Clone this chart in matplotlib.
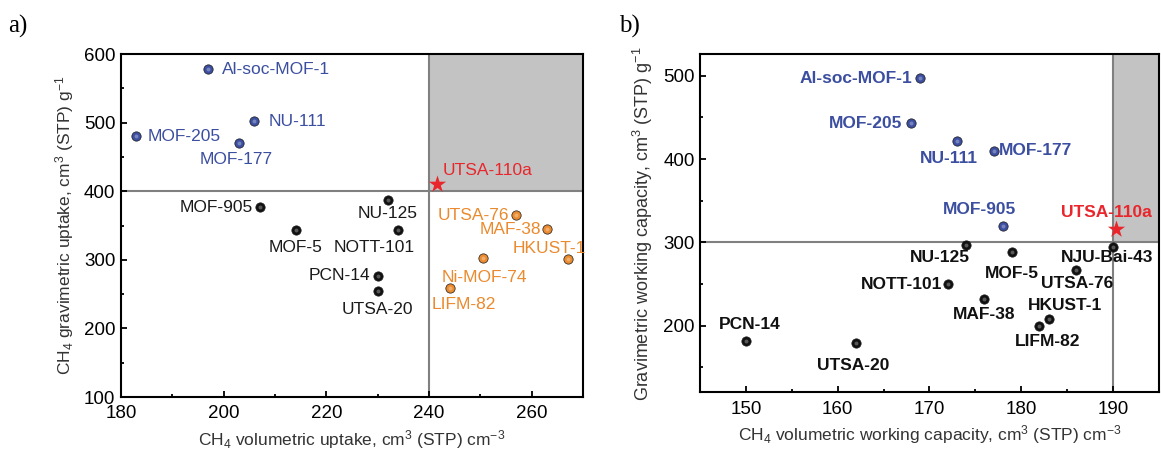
import matplotlib
matplotlib.use("Agg")
import matplotlib.pyplot as plt
from matplotlib.ticker import MultipleLocator

# ---- panel a) data: volumetric uptake (x) vs gravimetric uptake (y)
a_blue_names = ["Al-soc-MOF-1", "NU-111", "MOF-205", "MOF-177"]
a_blue_x = [197, 206, 183, 203]
a_blue_y = [578, 502, 480, 471]

a_black_names = ["MOF-905", "NU-125", "MOF-5", "NOTT-101", "PCN-14", "UTSA-20"]
a_black_x = [207, 232, 214, 234, 230, 230]
a_black_y = [377, 388, 344, 344, 277, 254]

a_orange_names = ["UTSA-76", "MAF-38", "HKUST-1", "Ni-MOF-74", "LIFM-82"]
a_orange_x = [257, 263, 267, 250.5, 244]
a_orange_y = [365, 345, 301, 303, 259]

a_star_name = "UTSA-110a"
a_star_x = [241.5]
a_star_y = [410]

# ---- panel b) data: volumetric vs gravimetric working capacity
b_blue_names = ["Al-soc-MOF-1", "MOF-205", "NU-111", "MOF-177", "MOF-905"]
b_blue_x = [169, 168, 173, 177, 178]
b_blue_y = [497, 443, 422, 410, 320]

b_black_names = ["NU-125", "MOF-5", "NJU-Bai-43", "UTSA-76", "NOTT-101",
                 "MAF-38", "HKUST-1", "LIFM-82", "PCN-14", "UTSA-20"]
b_black_x = [174, 179, 190, 186, 172, 176, 183, 182, 150, 162]
b_black_y = [297, 288, 295, 267, 250, 232, 208, 200, 182, 179]

b_star_name = "UTSA-110a"
b_star_x = [190.4]
b_star_y = [316]

# label placement (offset in points, ha)
A_LABELS = {
    "Al-soc-MOF-1": ((10, 0), "left"),
    "NU-111": ((10, 0), "left"),
    "MOF-205": ((8, 0), "left"),
    "MOF-177": ((-2, -12), "center"),
    "MOF-905": ((-5, 0), "right"),
    "NU-125": ((0, -10), "center"),
    "MOF-5": ((0, -13), "center"),
    "NOTT-101": ((-17, -13), "center"),
    "PCN-14": ((-5, 0), "right"),
    "UTSA-20": ((0, -13), "center"),
    "UTSA-76": ((-5, 0), "right"),
    "MAF-38": ((-4, 0), "right"),
    "HKUST-1": ((13, 8), "right"),
    "Ni-MOF-74": ((1, -14), "center"),
    "LIFM-82": ((10, -12), "center"),
    "UTSA-110a": ((4, 10), "left"),
}

B_LABELS = {
    "Al-soc-MOF-1": ((-6, 0), "right"),
    "MOF-205": ((-6, 0), "right"),
    "NU-111": ((-6, -13), "center"),
    "MOF-177": ((4, 0), "left"),
    "MOF-905": ((-17, 12), "center"),
    "NU-125": ((-19, -9), "center"),
    "MOF-5": ((0, -15), "center"),
    "NJU-Bai-43": ((-4, -8), "center"),
    "UTSA-76": ((1, -10), "center"),
    "NOTT-101": ((-4, 0), "right"),
    "MAF-38": ((0, -11), "center"),
    "HKUST-1": ((12, 10), "center"),
    "LIFM-82": ((6, -11), "center"),
    "PCN-14": ((3, 12), "center"),
    "UTSA-20": ((-2, -16), "center"),
    "UTSA-110a": ((-7, 12), "center"),
}

BLUE = "#3b4ea0"
ORANGE = "#ea8a2e"
RED = "#e8262b"
BLACK = "#111111"
GRAY_LINE = "#808080"
GRAY_FILL = "#c3c3c3"


def style_rc():
    plt.rcParams.update({
        "font.family": "Liberation Sans",
        "mathtext.fontset": "custom",
        "mathtext.rm": "Liberation Sans",
        "mathtext.it": "Liberation Sans:italic",
        "mathtext.bf": "Liberation Sans:bold",
        "axes.linewidth": 1.5,
        "xtick.direction": "in",
        "ytick.direction": "in",
        "xtick.major.size": 4,
        "ytick.major.size": 4,
        "xtick.minor.size": 2.5,
        "ytick.minor.size": 2.5,
        "xtick.major.width": 1.3,
        "ytick.major.width": 1.3,
        "xtick.minor.width": 1.3,
        "ytick.minor.width": 1.3,
        "xtick.major.pad": 6,
        "ytick.major.pad": 4,
        "xtick.labelsize": 13.5,
        "ytick.labelsize": 13.5,
    })


def dots(ax, xs, ys, color):
    ax.scatter(xs, ys, s=45, color=color, edgecolors="#1a1a1a",
               linewidths=0.5, zorder=4)
    ax.scatter(xs, ys, s=8, color="white", alpha=0.3, zorder=5,
               linewidths=0)


def label_all(ax, names, xs, ys, color, layout, weight):
    for n, x, y in zip(names, xs, ys):
        (dx, dy), ha = layout[n]
        ax.annotate(n, (x, y), xytext=(dx, dy), textcoords="offset points",
                    ha=ha, va="center", color=color, fontsize=12.5,
                    fontweight=weight, zorder=6, annotation_clip=False)


def panel_a(ax):
    ax.set_xlim(180, 270)
    ax.set_ylim(100, 600)
    ax.fill_between([240, 270], 400, 600, color=GRAY_FILL, zorder=0, linewidth=0)
    ax.axhline(400, color=GRAY_LINE, lw=1.5, zorder=1)
    ax.axvline(240, color=GRAY_LINE, lw=1.5, zorder=1)

    dots(ax, a_blue_x, a_blue_y, BLUE)
    dots(ax, a_black_x, a_black_y, BLACK)
    dots(ax, a_orange_x, a_orange_y, ORANGE)
    ax.scatter(a_star_x, a_star_y, marker="*", s=170, color=RED, zorder=5,
               linewidths=0)

    label_all(ax, a_blue_names, a_blue_x, a_blue_y, BLUE, A_LABELS, "normal")
    label_all(ax, a_black_names, a_black_x, a_black_y, "#1a1a1a", A_LABELS, "normal")
    label_all(ax, a_orange_names, a_orange_x, a_orange_y, ORANGE, A_LABELS, "normal")
    label_all(ax, [a_star_name], a_star_x, a_star_y, RED, A_LABELS, "normal")

    ax.xaxis.set_major_locator(MultipleLocator(20))
    ax.xaxis.set_minor_locator(MultipleLocator(10))
    ax.yaxis.set_major_locator(MultipleLocator(100))
    ax.yaxis.set_minor_locator(MultipleLocator(50))
    ax.set_xticks([180, 200, 220, 240, 260])
    ax.set_xlabel(r"CH$_4$ volumetric uptake, cm$^3$ (STP) cm$^{-3}$",
                  fontsize=12.5, color="#333333", labelpad=4)
    ax.set_ylabel(r"CH$_4$ gravimetric uptake, cm$^3$ (STP) g$^{-1}$",
                  fontsize=12.5, color="#333333", labelpad=6)


def panel_b(ax):
    ax.set_xlim(145, 195)
    ax.set_ylim(120, 526)
    ax.fill_between([190, 195], 300, 526, color=GRAY_FILL, zorder=0, linewidth=0)
    ax.axhline(300, color=GRAY_LINE, lw=1.5, zorder=1)
    ax.axvline(190, color=GRAY_LINE, lw=1.5, zorder=1)

    dots(ax, b_blue_x, b_blue_y, BLUE)
    dots(ax, b_black_x, b_black_y, BLACK)
    ax.scatter(b_star_x, b_star_y, marker="*", s=170, color=RED, zorder=5,
               linewidths=0)

    label_all(ax, b_blue_names, b_blue_x, b_blue_y, BLUE, B_LABELS, "bold")
    label_all(ax, b_black_names, b_black_x, b_black_y, "#111111", B_LABELS, "bold")
    label_all(ax, [b_star_name], b_star_x, b_star_y, RED, B_LABELS, "bold")

    ax.xaxis.set_major_locator(MultipleLocator(10))
    ax.xaxis.set_minor_locator(MultipleLocator(5))
    ax.yaxis.set_major_locator(MultipleLocator(100))
    ax.yaxis.set_minor_locator(MultipleLocator(50))
    ax.set_xlabel(r"CH$_4$ volumetric working capacity, cm$^3$ (STP) cm$^{-3}$",
                  fontsize=12.5, color="#333333", labelpad=4)
    ax.set_ylabel(r"Gravimetric working capacity, cm$^3$ (STP) g$^{-1}$",
                  fontsize=13, color="#333333", labelpad=6)


def main():
    style_rc()
    fig = plt.figure(figsize=(11.61, 4.59), dpi=100)
    ax_a = fig.add_axes([0.1042, 0.135, 0.398, 0.747])
    ax_b = fig.add_axes([0.603, 0.145, 0.395, 0.737])
    panel_a(ax_a)
    panel_b(ax_b)

    fig.text(0.007, 0.93, "a)", family="Liberation Serif", fontsize=18)
    fig.text(0.533, 0.93, "b)", family="Liberation Serif", fontsize=18)

    fig.savefig("out.png", dpi=100)
    plt.close(fig)


if __name__ == "__main__":
    main()
